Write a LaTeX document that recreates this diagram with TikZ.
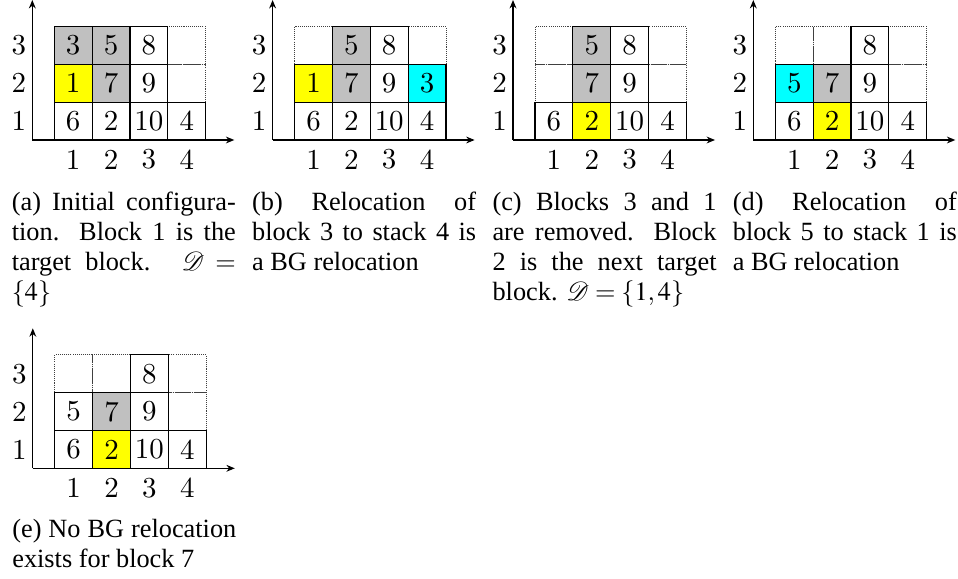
\documentclass[tikz,border=0pt]{standalone}
\usepackage{mathptmx}
\usepackage{mathrsfs}
\usepackage{fontspec}
\setmainfont{Liberation Serif}
\newfontfamily\lmfont{lmroman10-regular.otf}
\usetikzlibrary{arrows.meta}
\definecolor{blkgray}{RGB}{192,192,192}
\definecolor{blkyellow}{RGB}{255,255,0}
\definecolor{blkcyan}{RGB}{0,255,255}
\newdimen\px \px=0.38pt
\tikzset{
  cellbox/.style={draw=black, line width=0.45pt, minimum width=37.85\px, minimum height=37.8\px, inner sep=0pt, font=\fontsize{11}{13}\lmfont},
  emptycell/.style={draw=black!75, line width=0.35pt, dash pattern=on 0.4pt off 0.4pt, minimum width=37.85\px, minimum height=37.8\px, inner sep=0pt},
  axislabel/.style={inner sep=0pt, font=\fontsize{11}{13}\lmfont},
  axisline/.style={line width=0.45pt, -{Stealth[length=3.2pt,width=2.6pt]}},
  captext/.style={inner sep=0pt, anchor=base west, font=\fontsize{10}{11.4}\selectfont},
}
% #1 prefix, #2 ox, #3 oy, #4 cells, #5 caption offset, #6 caption
\newcommand\drawpanel[6]{%
  \coordinate (#1o) at (#2,#3);
  \coordinate (#1x) at (#2+202,#3);
  \coordinate (#1y) at (#2,#3-140);
  \foreach \c in {1,...,4}{\foreach \r in {1,2,3}{%
    \node[emptycell] (#1e\c\r) at ({#2+22+(\c-0.5)*37.85},{#3-(\r-0.5)*37.8}) {};}}
  \foreach \c/\r/\t/\f in {#4}{%
    \node[cellbox, fill=\f] (#1c\c\r) at ({#2+22+(\c-0.5)*37.85},{#3-(\r-0.5)*37.8}) {\t};}
  \foreach \c in {1,...,4}{%
    \node[axislabel] (#1col\c) at ({#2+22+(\c-0.5)*37.85},{#3+19.5}) {\c};}
  \foreach \r in {1,2,3}{%
    \node[axislabel] (#1row\r) at ({#2-13.5},{#3-(\r-0.5)*37.8}) {\r};}
  \draw[axisline] (#1o) -- (#1x);
  \draw[axisline] (#1o) -- (#1y);
  \node[captext] (#1cap) at ({#2-21},{#3+#5}) {\parbox[t]{224\px}{\tolerance=10000 #6}};
}
\begin{document}
\begin{tikzpicture}[x=0.38pt,y=-0.38pt]
\useasboundingbox (0,0) rectangle (958,578);
\drawpanel{a}{32.3}{140}{1/1/6/white,2/1/2/white,3/1/10/white,4/1/4/white,1/2/1/blkyellow,2/2/7/blkgray,3/2/9/white,1/3/3/blkgray,2/3/5/blkgray,3/3/8/white}{71}%
  {(a) Initial configura-\linebreak tion. Block 1 is the\linebreak target block. $\mathscr{D}=$\linebreak $\{4\}$}
\drawpanel{b}{272.6}{140}{1/1/6/white,2/1/2/white,3/1/10/white,4/1/4/white,1/2/1/blkyellow,2/2/7/blkgray,3/2/9/white,4/2/3/blkcyan,2/3/5/blkgray,3/3/8/white}{71}%
  {(b) Relocation of\linebreak block 3 to stack 4 is\linebreak a BG relocation}
\drawpanel{c}{513}{140}{1/1/6/white,2/1/2/blkyellow,3/1/10/white,4/1/4/white,2/2/7/blkgray,3/2/9/white,2/3/5/blkgray,3/3/8/white}{71}%
  {(c) Blocks 3 and 1\linebreak are removed. Block\linebreak 2 is the next target\linebreak block. $\mathscr{D}=\{1,4\}$}
\drawpanel{d}{753.3}{140}{1/1/6/white,2/1/2/blkyellow,3/1/10/white,4/1/4/white,1/2/5/blkcyan,2/2/7/blkgray,3/2/9/white,3/3/8/white}{71}%
  {(d) Relocation of\linebreak block 5 to stack 1 is\linebreak a BG relocation}
\drawpanel{e}{32.8}{468.3}{1/1/6/white,2/1/2/blkyellow,3/1/10/white,4/1/4/white,1/2/5/white,2/2/7/blkgray,3/2/9/white,3/3/8/white}{69}%
  {(e) No BG relocation\linebreak exists for block 7}
\end{tikzpicture}
\end{document}
